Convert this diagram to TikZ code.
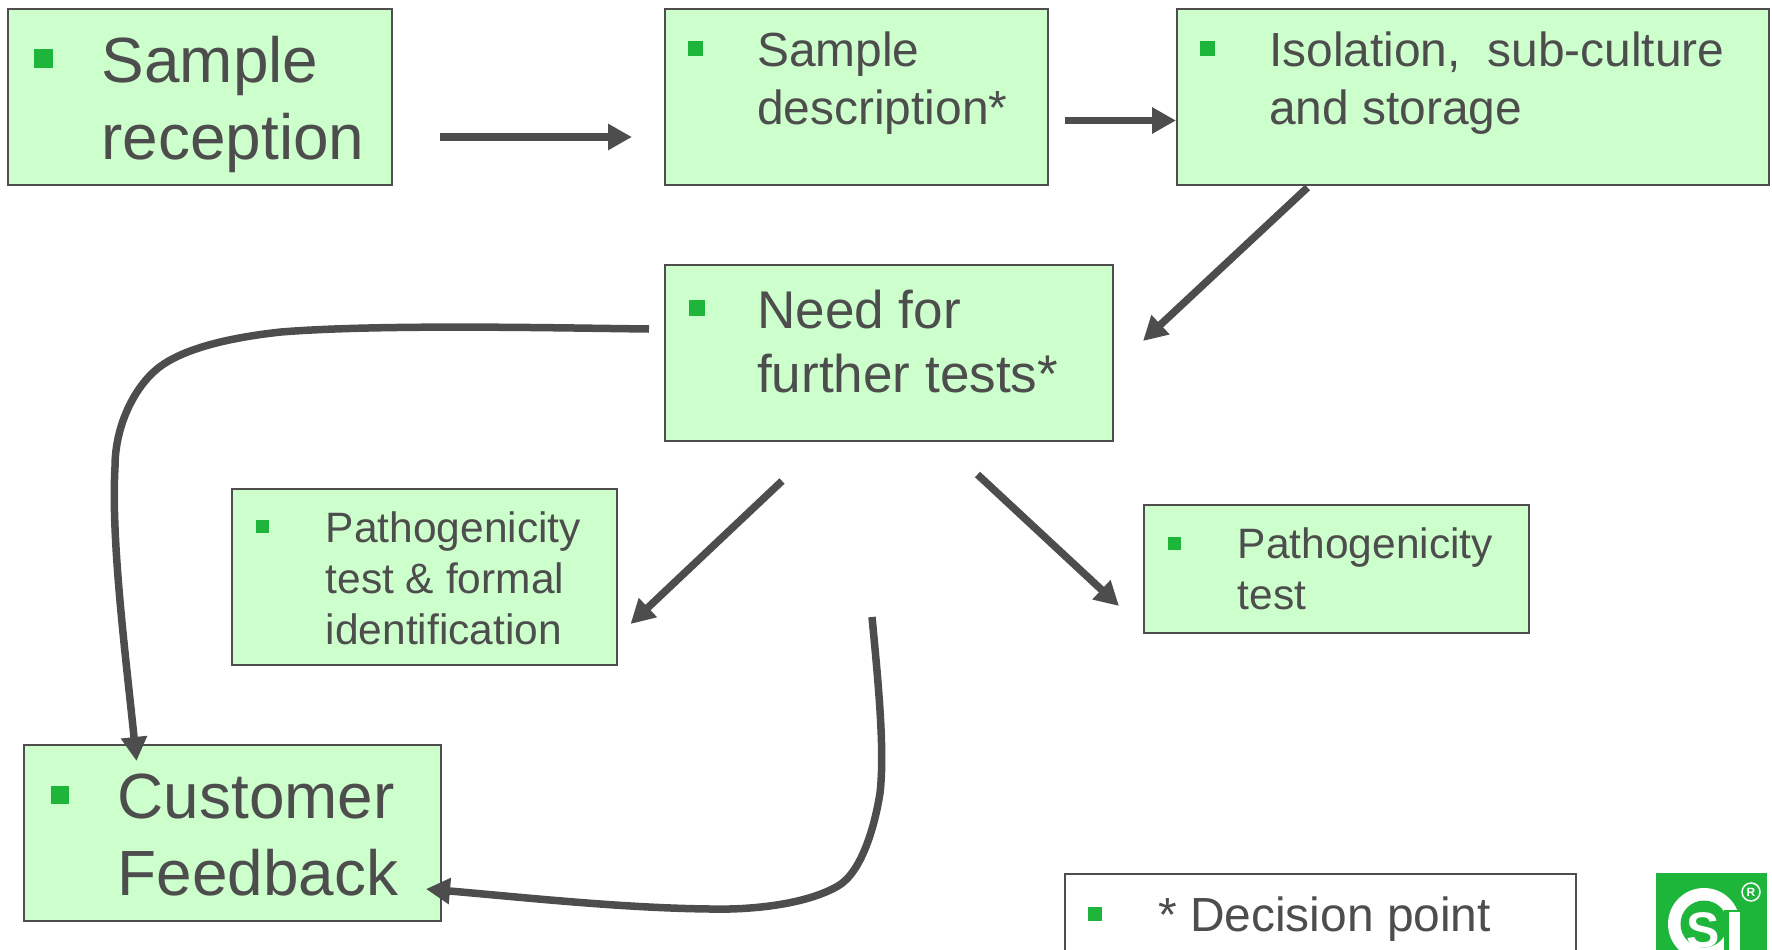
\documentclass[tikz,border=0pt]{standalone}
\usepackage{fontspec}
\setmainfont{Liberation Sans}
\usetikzlibrary{arrows.meta}
\definecolor{boxgreen}{HTML}{CCFFCC}
\definecolor{markgreen}{HTML}{1DB53A}
\definecolor{inkgrey}{HTML}{4D4D4D}
\tikzset{
  stagebox/.style={draw=inkgrey,line width=2pt,fill=boxgreen,anchor=north west,inner sep=0pt,outer sep=0pt},
  legendbox/.style={stagebox,fill=white},
  squaremark/.style={fill=markgreen,anchor=north west,inner sep=0pt,outer sep=0pt},
  stagetext/.style={text=inkgrey,anchor=north west,align=left,inner sep=0pt},
  flowline/.style={inkgrey,line width=7.5pt,-{Triangle[length=24pt,width=25pt]}},
}
\newcommand{\sizeA}{\fontsize{63.9}{77}\selectfont}
\newcommand{\sizeB}{\fontsize{53.1}{64}\selectfont}
\newcommand{\sizeC}{\fontsize{47.9}{58}\selectfont}
\newcommand{\sizeD}{\fontsize{42.5}{51}\selectfont}
\begin{document}
\begin{tikzpicture}[x=1pt,y=-1pt]
\clip (0,0) rectangle (1772,950);
% boxes
\node[stagebox,minimum width=384pt,minimum height=175.5pt] (reception) at (8,9) {};
\node[stagebox,minimum width=383.5pt,minimum height=175.5pt] (description) at (664.5,9) {};
\node[stagebox,minimum width=592pt,minimum height=175.5pt] (isolation) at (1176.5,9) {};
\node[stagebox,minimum width=448pt,minimum height=175.5pt] (need) at (664.5,265) {};
\node[stagebox,minimum width=384.5pt,minimum height=176pt] (formal) at (232,489) {};
\node[stagebox,minimum width=384.5pt,minimum height=128pt] (patho) at (1144,505) {};
\node[stagebox,minimum width=416.5pt,minimum height=176pt] (customer) at (24,745) {};
\node[legendbox,minimum width=511pt,minimum height=120pt] (legend) at (1065,873.5) {};
% bullets
\node[squaremark,minimum width=19pt,minimum height=19pt] (receptionmark) at (34,49) {};
\node[squaremark,minimum width=15pt,minimum height=15pt] (descriptionmark) at (688,41) {};
\node[squaremark,minimum width=15pt,minimum height=15pt] (isolationmark) at (1200,41) {};
\node[squaremark,minimum width=16pt,minimum height=16pt] (needmark) at (689,300) {};
\node[squaremark,minimum width=13pt,minimum height=13pt] (formalmark) at (256,520) {};
\node[squaremark,minimum width=13pt,minimum height=13pt] (pathomark) at (1168,537) {};
\node[squaremark,minimum width=18pt,minimum height=18pt] (customermark) at (50.5,786) {};
\node[squaremark,minimum width=14pt,minimum height=14pt] (legendmark) at (1088,907) {};
% texts
\node[stagetext,font=\sizeA] (receptiontext) at (101.5,35.5) {Sample\\reception};
\node[stagetext,font=\sizeC] (descriptiontext) at (757,31.5) {Sample\\description*};
\node[stagetext,font=\sizeC] (isolationtext) at (1269,31.5) {Isolation,\ \ sub-culture\\and storage};
\node[stagetext,font=\sizeB] (needtext) at (757,289.5) {Need for\\further tests*};
\node[stagetext,font=\sizeD] (formaltext) at (325.5,511) {Pathogenicity\\test \& formal\\identification};
\node[stagetext,font=\sizeD] (pathotext) at (1237.5,527.5) {Pathogenicity\\test};
\node[stagetext,font=\sizeA] (customertext) at (117.5,773.5) {Customer\\Feedback};
\node[stagetext,font=\sizeC] (legendtext) at (1158,896.5) {* Decision point};
% free ends of the arrows
\coordinate (a1) at (440,137);
\coordinate (a2) at (632,137);
\coordinate (b1) at (1064.5,120.5);
\coordinate (b2) at (1176,120.5);
\coordinate (c1) at (1307.5,187.5);
\coordinate (c2) at (1143,341);
\coordinate (d1) at (782,481);
\coordinate (d2) at (630.5,624);
\coordinate (e1) at (977.5,474.5);
\coordinate (e2) at (1119,606);
\coordinate (f1) at (649,329);
\coordinate (f2) at (136.5,761);
\coordinate (g1) at (872,617);
\coordinate (g2) at (426,889);
\draw[flowline] (a1)--(a2);
\draw[flowline] (b1)--(b2);
\draw[flowline] (c1)--(c2);
\draw[flowline] (d1)--(d2);
\draw[flowline] (e1)--(e2);
\draw[flowline] (f1) .. controls (560,328) and (380,324) .. (281,332) .. controls (225,338) and (180,350) .. (157,369) .. controls (135,387) and (115,425) .. (115,467) .. controls (111,540) and (125,650) .. (f2);
\draw[flowline] (g1) .. controls (878,680) and (885,750) .. (880,793) .. controls (875,825) and (862,872) .. (838,886) .. controls (805,905) and (750,910) .. (710,909) .. controls (620,908) and (520,897) .. (g2);
% logo
\fill[markgreen] (1656,873) rectangle (1767,960);
\fill[white] (1704,924) circle (36);
\fill[markgreen] (1704,924) circle (23.5);
\fill[markgreen] (1724,910) rectangle (1745,960);
\fill[white] (1729,911.5) rectangle (1740,960);
\node[text=white,font=\fontsize{50}{50}\selectfont\bfseries,inner sep=0pt,anchor=base] (logos) at (1703,947) {S};
\node[draw=white,line width=1.5pt,circle,minimum size=18pt,inner sep=0pt,text=white,font=\fontsize{12}{12}\selectfont\bfseries] (logoreg) at (1751,892) {R};
\end{tikzpicture}
\end{document}
